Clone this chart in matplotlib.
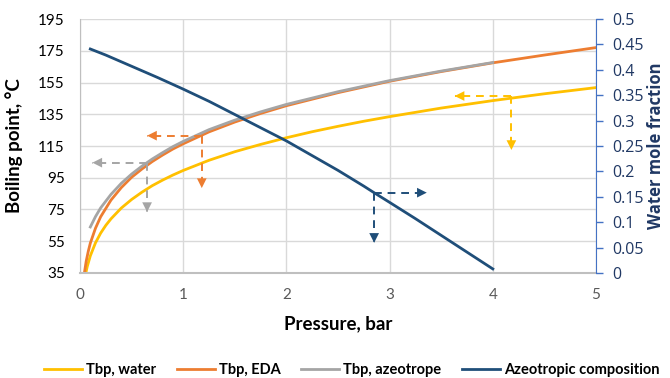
import matplotlib.pyplot as plt

plt.rcParams['font.family'] = ['Lato', 'DejaVu Sans']

# boiling point of water vs pressure (bar, degC)
p_water = [0.05, 0.07, 0.1, 0.15, 0.2, 0.25, 0.3, 0.4, 0.5, 0.6, 0.7, 0.8, 0.9, 1.0,
           1.25, 1.5, 1.75, 2.0, 2.25, 2.5, 2.75, 3.0, 3.5, 4.0, 4.5, 5.0]
t_water = [33, 39, 45.8, 54, 60.1, 65, 69.1, 75.9, 81.3, 85.9, 90, 93.5, 96.7, 99.6,
           106, 111.4, 116, 120.2, 124, 127.4, 130.6, 133.5, 138.9, 143.6, 147.9, 151.8]

# boiling point of EDA
p_eda = [0.04, 0.06, 0.08, 0.1, 0.15, 0.2, 0.3, 0.4, 0.5, 0.6, 0.7, 0.8, 0.9, 1.0,
         1.25, 1.5, 1.75, 2.0, 2.5, 3.0, 3.5, 4.0, 4.5, 5.0]
t_eda = [34, 42.4, 48.6, 53.8, 63.2, 70.4, 80.9, 88.8, 95.3, 100.5, 105.2, 109.3, 113.1, 116.4,
         123.9, 130.1, 135.5, 140.4, 148.6, 155.8, 161.9, 167.4, 172.3, 177]

# boiling point of the azeotrope
p_azeo = [0.1, 0.15, 0.2, 0.3, 0.4, 0.5, 0.6, 0.7, 0.8, 0.9, 1.0,
          1.25, 1.5, 1.75, 2.0, 2.5, 3.0, 3.5, 4.0]
t_azeo = [64, 70.5, 76, 84.5, 91.5, 97.3, 102.3, 106.8, 110.8, 114.6, 117.9,
          125.3, 131.3, 136.5, 141.2, 149.2, 156.2, 162.2, 167.6]

# azeotropic composition (water mole fraction, right axis)
p_comp = [0.1, 0.25, 0.5, 0.75, 1.0, 1.25, 1.5, 1.75, 2.0, 2.25, 2.5, 2.75, 2.85,
          3.0, 3.25, 3.5, 3.75, 4.0]
x_comp = [0.441, 0.429, 0.407, 0.385, 0.362, 0.338, 0.312, 0.286, 0.26, 0.231, 0.202, 0.171, 0.158,
          0.139, 0.107, 0.074, 0.041, 0.008]

c_water = '#FFC000'
c_eda = '#ED7D31'
c_azeo = '#A5A5A5'
c_comp = '#1F4E79'
c_text2 = '#203864'

fig = plt.figure(figsize=(6.7, 3.78), dpi=100)
ax = fig.add_axes([0.1194, 0.2778, 0.7702, 0.6719])
ax2 = ax.twinx()

ax.plot(p_water, t_water, color=c_water, lw=2, label='Tbp, water')
ax.plot(p_eda, t_eda, color=c_eda, lw=2, label='Tbp, EDA')
ax.plot(p_azeo, t_azeo, color=c_azeo, lw=2, label='Tbp, azeotrope')
ax2.plot(p_comp, x_comp, color=c_comp, lw=2, label='Azeotropic composition')


def arrow(a, x0, y0, x1, y1, color):
    a.plot([x0, x1], [y0, y1], color=color, lw=1.4, ls=(0, (4, 3)))
    a.annotate('', xy=(x1, y1), xytext=(x0 + (x1 - x0) * 0.9, y0 + (y1 - y0) * 0.9),
               arrowprops=dict(arrowstyle='-|>,head_length=0.7,head_width=0.35',
                               color=color, lw=0, shrinkA=0, shrinkB=0))


# reading arrows
arrow(ax, 0.65, 104.5, 0.12, 104.5, c_azeo)
arrow(ax, 0.65, 104.5, 0.65, 73.4, c_azeo)
arrow(ax, 1.18, 121.5, 0.65, 121.5, c_eda)
arrow(ax, 1.18, 121.5, 1.18, 88.5, c_eda)
arrow(ax, 4.18, 146.5, 3.63, 146.5, c_water)
arrow(ax, 4.18, 146.5, 4.18, 112.5, c_water)
arrow(ax, 2.85, 85.6, 3.36, 85.6, c_comp)
arrow(ax, 2.85, 85.6, 2.85, 54, c_comp)

ax.set_xlim(0, 5)
ax.set_ylim(35, 195)
ax.set_xticks([0, 1, 2, 3, 4, 5])
ax.set_yticks(range(35, 196, 20))
ax2.set_ylim(0, 0.5)
ax2.set_yticks([0, 0.05, 0.1, 0.15, 0.2, 0.25, 0.3, 0.35, 0.4, 0.45, 0.5])
ax2.set_yticklabels(['0', '0.05', '0.1', '0.15', '0.2', '0.25', '0.3', '0.35', '0.4', '0.45', '0.5'],
                    family='Open Sans')

ax.grid(True, color='#D9D9D9', lw=1)
ax.set_axisbelow(True)
ax.tick_params(axis='x', length=0, colors='#595959', labelsize=11, pad=11)
ax.tick_params(axis='y', length=0, labelsize=11, pad=11)
ax2.tick_params(axis='y', length=5, width=1, color='#4472C4', labelcolor=c_text2,
                labelsize=11.5, pad=7)

for s in ['top', 'right']:
    ax.spines[s].set_visible(False)
ax.spines['left'].set_color('#BFBFBF')
ax.spines['bottom'].set_color('#BFBFBF')
ax.spines['bottom'].set_linewidth(1.5)
for s in ['top', 'left', 'bottom']:
    ax2.spines[s].set_visible(False)
ax2.spines['right'].set_color('#4472C4')

ax.set_xlabel('Pressure, bar', fontsize=13.5, fontweight='bold', labelpad=9)
ax.set_ylabel('Boiling point, °C', fontsize=13.5, fontweight='bold', labelpad=11)
ax2.set_ylabel('Water mole fraction', fontsize=12, fontweight='bold', color=c_text2,
               labelpad=2, family='Open Sans')

h1, l1 = ax.get_legend_handles_labels()
h2, l2 = ax2.get_legend_handles_labels()
fig.legend(h1 + h2, l1 + l2, loc='center', bbox_to_anchor=(0.525, 0.02), ncol=4,
           frameon=False, prop={'weight': 'bold', 'size': 10.5},
           handlelength=2.6, handletextpad=0.3, columnspacing=1.4)

fig.savefig('out.png', dpi=100)
